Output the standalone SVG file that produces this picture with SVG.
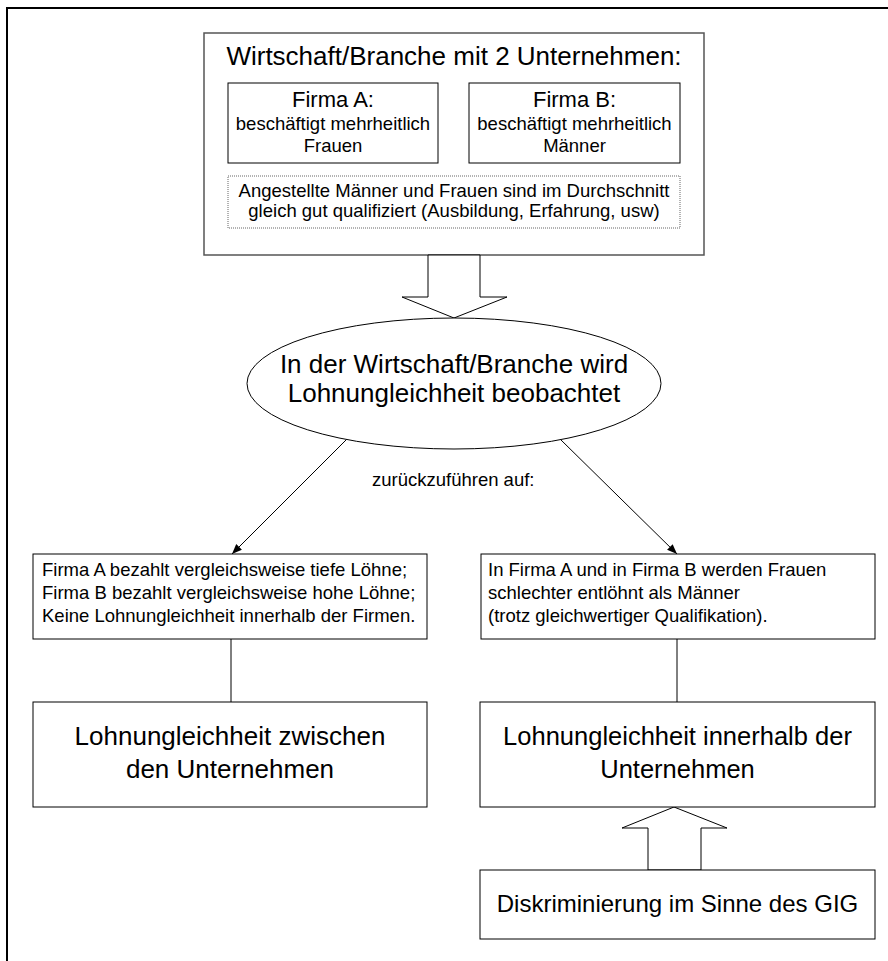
<svg xmlns="http://www.w3.org/2000/svg" width="888" height="961" viewBox="0 0 888 961">
<style>
text{font-family:"Liberation Sans",Arial,sans-serif;fill:#000}
.box{fill:#fff;stroke:#000;stroke-width:1}
.big{font-size:26px}
.mid{font-size:18.5px}
.hd{font-size:22px}
.c{text-anchor:middle}
.con{stroke:#000;stroke-width:1;fill:none}
.blk{fill:#fff;stroke:#000;stroke-width:1}
</style>
<defs>
<marker id="ah" viewBox="0 0 10 10" refX="10" refY="5" markerWidth="10" markerHeight="10" markerUnits="userSpaceOnUse" orient="auto">
<path d="M0,1 L10,5 L0,9 Z" fill="#000"/>
</marker>
</defs>
<rect width="888" height="961" fill="#fff"/>
<path d="M7,961 V8 H888" fill="none" stroke="#000" stroke-width="2"/>

<g id="top">
<rect x="204" y="33" width="500" height="222" fill="#fff" stroke="#555" stroke-width="1.5"/>
<text class="big c" x="454" y="65">Wirtschaft/Branche mit 2 Unternehmen:</text>
</g>
<g id="firmaA">
<rect class="box" x="228" y="83" width="210" height="80"/>
<text class="hd c" x="333" y="107">Firma A:</text>
<text class="mid c" x="333" y="130">beschäftigt mehrheitlich</text>
<text class="mid c" x="333" y="152">Frauen</text>
</g>
<g id="firmaB">
<rect class="box" x="469" y="83" width="211" height="80"/>
<text class="hd c" x="574.5" y="107">Firma B:</text>
<text class="mid c" x="574.5" y="130">beschäftigt mehrheitlich</text>
<text class="mid c" x="574.5" y="152">Männer</text>
</g>
<g id="qualifikation">
<rect x="228" y="176" width="452" height="52" fill="#fff" stroke="#666" stroke-width="1" stroke-dasharray="1,1"/>
<text class="mid c" x="454" y="197">Angestellte Männer und Frauen sind im Durchschnitt</text>
<text class="mid c" x="454" y="217">gleich gut qualifiziert (Ausbildung, Erfahrung, usw)</text>
</g>

<g id="connectors">
<polygon class="blk" points="428,255 480,255 480,297 507,297 454,318 402,297 428,297"/>
<line class="con" x1="347" y1="439" x2="232" y2="554" marker-end="url(#ah)"/>
<line class="con" x1="560" y1="439" x2="677" y2="554" marker-end="url(#ah)"/>
<line class="con" x1="231" y1="639" x2="231" y2="702"/>
<line class="con" x1="677" y1="639" x2="677" y2="702"/>
<polygon class="blk" points="648,870 701,870 701,828 727,828 674,807 622,828 648,828"/>
<text class="mid" x="372" y="486">zurückzuführen auf:</text>
</g>

<g id="ellipse">
<ellipse cx="454" cy="383.5" rx="207" ry="65.5" fill="#fff" stroke="#000" stroke-width="1"/>
<text class="big c" x="454" y="373">In der Wirtschaft/Branche wird</text>
<text class="big c" x="454" y="402">Lohnungleichheit beobachtet</text>
</g>

<g id="zwischenUrsache">
<rect class="box" x="33" y="554" width="394" height="85"/>
<text class="mid" x="42" y="576">Firma A bezahlt vergleichsweise tiefe Löhne;</text>
<text class="mid" x="42" y="599">Firma B bezahlt vergleichsweise hohe Löhne;</text>
<text class="mid" x="42" y="622">Keine Lohnungleichheit innerhalb der Firmen.</text>
</g>
<g id="innerhalbUrsache">
<rect class="box" x="481" y="554" width="394" height="85"/>
<text class="mid" x="488" y="576">In Firma A und in Firma B werden Frauen</text>
<text class="mid" x="488" y="599">schlechter entlöhnt als Männer</text>
<text class="mid" x="488" y="622">(trotz gleichwertiger Qualifikation).</text>
</g>
<g id="zwischen">
<rect class="box" x="33" y="702" width="394" height="105"/>
<text class="big c" x="230" y="745">Lohnungleichheit zwischen</text>
<text class="big c" x="230" y="778">den Unternehmen</text>
</g>
<g id="innerhalb">
<rect class="box" x="480" y="702" width="395" height="105"/>
<text class="c" style="font-size:25.5px" x="677.5" y="745">Lohnungleichheit innerhalb der</text>
<text class="c" style="font-size:25.5px" x="677.5" y="778">Unternehmen</text>
</g>
<g id="diskriminierung">
<rect class="box" x="480" y="870" width="395" height="69"/>
<text class="c" style="font-size:24px" x="677.5" y="912">Diskriminierung im Sinne des GIG</text>
</g>
</svg>
